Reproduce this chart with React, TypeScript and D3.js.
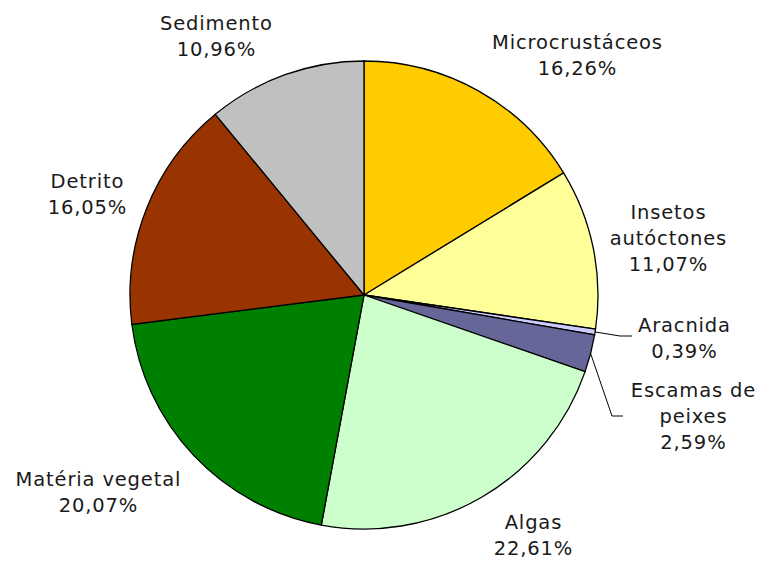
import React from "react";
import * as d3 from "d3";

const categories = [
  "Microcrustáceos",
  "Insetos autóctones",
  "Aracnida",
  "Escamas de peixes",
  "Algas",
  "Matéria vegetal",
  "Detrito",
  "Sedimento",
];
const values = [16.26, 11.07, 0.39, 2.59, 22.61, 20.07, 16.05, 10.96];
const labelLines = [
  ["Microcrustáceos", "16,26%"],
  ["Insetos", "autóctones", "11,07%"],
  ["Aracnida", "0,39%"],
  ["Escamas de", "peixes", "2,59%"],
  ["Algas", "22,61%"],
  ["Matéria vegetal", "20,07%"],
  ["Detrito", "16,05%"],
  ["Sedimento", "10,96%"],
];
const colors = ["#FFCC00", "#FFFF99", "#CCCCFF", "#666699", "#CCFFCC", "#008000", "#993300", "#C0C0C0"];

// label layout (text block centers)
const labelPos: [number, number][] = [
  [577, 55],
  [668, 238],
  [684, 338],
  [693, 416],
  [533, 535],
  [98, 492],
  [87, 194],
  [216, 36],
];

export default function App() {
  const W = 764, H = 562;
  const cx = 364, cy = 295, r = 234;
  const pie = d3.pie<number>().sort(null).value((d) => d)(values);
  const arc = d3.arc<d3.PieArcDatum<number>>().innerRadius(0).outerRadius(r);
  const lh = 26;
  const fs = 19.5;
  const ls = 0.85;

  const edge = (i: number) => {
    const a = (pie[i].startAngle + pie[i].endAngle) / 2;
    return [cx + r * Math.sin(a), cy - r * Math.cos(a)];
  };
  const e2 = edge(2);
  const e3 = edge(3);

  return (
    <svg width={W} height={H} style={{ position: "absolute", left: 0, top: 0, background: "#fff" }}>
      <g transform={`translate(${cx},${cy})`}>
        {pie.map((p, i) => (
          <path key={i} d={arc(p) || ""} fill={colors[i]} stroke="#000" strokeWidth={1.3} />
        ))}
      </g>
      <polyline points={`${e2[0]},${e2[1]} 620,336 632,336`} fill="none" stroke="#000" strokeWidth={1} />
      <polyline points={`${e3[0]},${e3[1]} 612,416 623,416`} fill="none" stroke="#000" strokeWidth={1} />
      {labelLines.map((lines, i) => {
        const [x, y] = labelPos[i];
        const y0 = y - ((lines.length - 1) * lh) / 2;
        return (
          <text
            key={categories[i]}
            x={x}
            textAnchor="middle"
            fontFamily="'DejaVu Sans', Verdana, sans-serif"
            fontSize={fs}
            letterSpacing={ls}
            fill="#1a1a1a"
          >
            {lines.map((l, j) => (
              <tspan key={j} x={x + ls / 2} y={y0 + j * lh + fs * 0.36}>
                {l}
              </tspan>
            ))}
          </text>
        );
      })}
    </svg>
  );
}
